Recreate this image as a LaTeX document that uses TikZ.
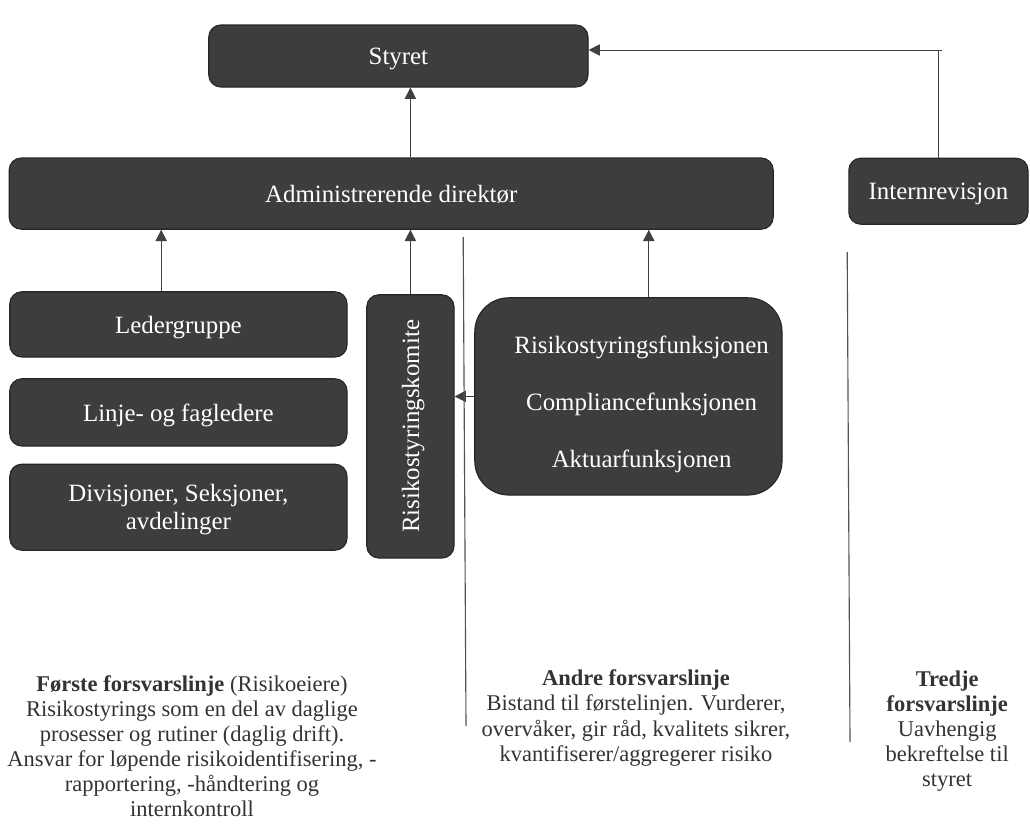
\documentclass[tikz,border=0pt]{standalone}
\usepackage{fontspec}
\setmainfont{Liberation Serif}
\usepackage{tikz}
\usetikzlibrary{positioning,arrows.meta,shapes}

\definecolor{boxfill}{HTML}{3D3D3D}
\definecolor{boxline}{HTML}{262626}
\definecolor{linegray}{HTML}{404040}
\definecolor{textgray}{HTML}{333333}

\begin{document}
\begin{tikzpicture}[
    unit/.style={draw=boxline, line width=0.8pt, fill=boxfill, text=white, rounded corners=0.3cm,
        inner sep=0pt, text depth=0pt, align=center, font=\fontsize{17.7}{21}\selectfont},
    arrow/.style={draw=linegray, line width=0.6pt, -{Triangle[width=8pt,length=8pt]}},
    sep/.style={draw=linegray!90, line width=0.8pt},
    linetext/.style={text=textgray, align=center, inner sep=0pt, font=\fontsize{16}{17.8}\selectfont}
]
    \useasboundingbox (0,0) rectangle (25.75,-20.575);

    % Top level
    \node[unit, minimum width=9.48cm, minimum height=1.55cm] (styret) at (9.96,-1.40) {Styret};
    \node[unit, minimum width=19.1cm, minimum height=1.78cm] (admin) at (9.78,-4.84) {Administrerende direktør};
    \node[unit, minimum width=4.48cm, minimum height=1.65cm] (intern) at (23.46,-4.78) {Internrevisjon};

    % First line boxes
    \node[unit, minimum width=8.43cm, minimum height=1.63cm] (leder) at (4.46,-8.11) {Ledergruppe};
    \node[unit, minimum width=8.43cm, minimum height=1.68cm] (linje) at (4.46,-10.31) {Linje- og fagledere};
    \node[unit, minimum width=8.43cm, minimum height=2.15cm, font=\fontsize{17.7}{20}\selectfont] (div) at (4.46,-12.68) {Divisjoner, Seksjoner,\\avdelinger};

    % Committee
    \node[unit, rotate=90, minimum width=6.58cm, minimum height=2.18cm] (komite) at (10.26,-10.66) {Risikostyringskomite};

    % Second line functions
    \node[unit, rounded corners=0.85cm, minimum width=7.68cm, minimum height=4.93cm] (funk) at (15.71,-9.91)
        {\rule{0pt}{20pt}\hspace*{0.66cm}Risikostyringsfunksjonen\\[0.68cm]\hspace*{0.66cm}Compliancefunksjonen\\[0.68cm]\hspace*{0.66cm}Aktuarfunksjonen};

    % Arrows
    \draw[arrow] ([xshift=-0.43cm]leder.north) -- ([xshift=-0.43cm]leder.north |- admin.south);
    \draw[arrow] (komite.east) -- (komite.east |- admin.south);
    \draw[arrow] (admin.north -| komite.east) -- (styret.south -| komite.east);
    \draw[arrow] ([xshift=0.51cm]funk.north) -- ([xshift=0.51cm]funk.north |- admin.south);
    \draw[arrow] (funk.west) -- (funk.west -| komite.south);
    \coordinate (corner) at ([xshift=0.1cm,yshift=0.15cm]intern.north |- styret.east);
    \draw[draw=linegray, line width=0.6pt] (intern.north) -- (intern.north |- corner);
    \draw[arrow] (corner) -- (styret.east |- corner);

    % Separators
    \draw[sep] (11.58,-5.93) -- (11.65,-18.15);
    \draw[sep] (21.18,-6.3) -- (21.25,-18.55);

    % Lines of defence
    \node[linetext] (forste) at (4.8,-18.65) {\textbf{Første forsvarslinje} (Risikoeiere)\\
        Risikostyrings som en del av daglige\\
        prosesser og rutiner (daglig drift).\\
        Ansvar for løpende risikoidentifisering, -\\
        rapportering, -håndtering og\\
        internkontroll};
    \node[linetext] (andre) at (15.9,-17.95) {\textbf{Andre forsvarslinje}\\
        Bistand til førstelinjen. Vurderer,\\
        overvåker, gir råd, kvalitets sikrer,\\
        kvantifiserer/aggregerer risiko};
    \node[linetext] (tredje) at (23.68,-18.28) {\textbf{Tredje}\\
        \textbf{forsvarslinje}\\
        Uavhengig\\
        bekreftelse til\\
        styret};
\end{tikzpicture}
\end{document}
